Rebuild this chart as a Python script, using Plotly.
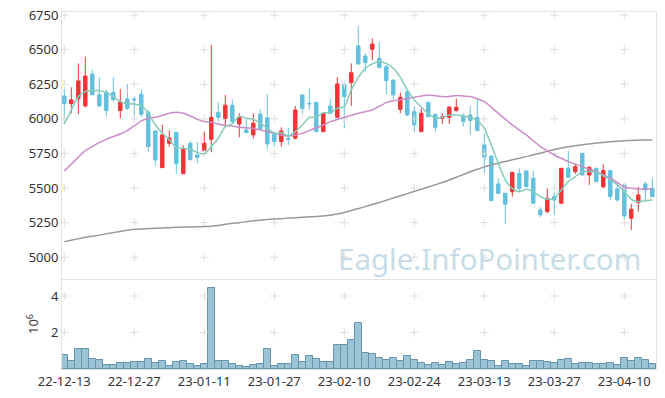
import plotly.graph_objects as go

dates = [
    "2022-12-13", "2022-12-14", "2022-12-15", "2022-12-16", "2022-12-19", "2022-12-20", "2022-12-21",
    "2022-12-22", "2022-12-23", "2022-12-26", "2022-12-27", "2022-12-28", "2022-12-29",
    "2023-01-02", "2023-01-03", "2023-01-04", "2023-01-05", "2023-01-06", "2023-01-09", "2023-01-10",
    "2023-01-11", "2023-01-12", "2023-01-13", "2023-01-16", "2023-01-17", "2023-01-18", "2023-01-19",
    "2023-01-20", "2023-01-25", "2023-01-26", "2023-01-27", "2023-01-30", "2023-01-31",
    "2023-02-01", "2023-02-02", "2023-02-03", "2023-02-06", "2023-02-07", "2023-02-08", "2023-02-09",
    "2023-02-10", "2023-02-13", "2023-02-14", "2023-02-15", "2023-02-16", "2023-02-17", "2023-02-20",
    "2023-02-21", "2023-02-22", "2023-02-23", "2023-02-24", "2023-02-27", "2023-02-28",
    "2023-03-02", "2023-03-03", "2023-03-06", "2023-03-07", "2023-03-08", "2023-03-09", "2023-03-10",
    "2023-03-13", "2023-03-14", "2023-03-15", "2023-03-16", "2023-03-17", "2023-03-20", "2023-03-21",
    "2023-03-22", "2023-03-23", "2023-03-24", "2023-03-27", "2023-03-28", "2023-03-29", "2023-03-30",
    "2023-03-31", "2023-04-03", "2023-04-04", "2023-04-05", "2023-04-06", "2023-04-07", "2023-04-10",
    "2023-04-11", "2023-04-12", "2023-04-13", "2023-04-14",
]

open_ = [6165, 6110, 6146, 6093, 6324, 6173, 6192, 6192, 6060, 6144, 6144, 6178, 6047, 5913, 5648,
         5823, 5903, 5604, 5823, 5739, 5771, 5852, 6047, 6004, 6098, 5963, 5920, 5884, 6035, 6009,
         5891, 5836, 5860, 5860, 6173, 6112, 6120, 5908, 6093, 6011, 6252, 6262, 6527, 6454, 6503,
         6438, 6377, 6281, 6069, 6197, 6052, 5908, 6120, 6033, 6004, 6011, 6060, 6021, 6028, 6011,
         5811, 5732, 5530, 5462, 5474, 5607, 5624, 5571, 5342, 5330, 5438, 5390, 5643, 5619, 5751,
         5595, 5643, 5510, 5626, 5494, 5523, 5282, 5395, 5530, 5498]
high = [6214, 6228, 6401, 6450, 6353, 6300, 6209, 6300, 6214, 6250, 6161, 6214, 6064, 5913, 5956,
        5915, 5903, 5807, 5840, 5831, 5908, 6534, 6120, 6173, 6141, 6040, 5997, 6040, 6069, 6178,
        5908, 5939, 5937, 6093, 6173, 6221, 6120, 6040, 6144, 6300, 6252, 6401, 6671, 6474, 6582,
        6558, 6390, 6281, 6190, 6200, 6093, 6076, 6120, 6033, 6040, 6093, 6146, 6040, 6093, 6146,
        5896, 5732, 5571, 5462, 5619, 5643, 5624, 5626, 5361, 5498, 5467, 5643, 5771, 5674, 5751,
        5655, 5643, 5672, 5631, 5539, 5535, 5385, 5510, 5547, 5571]
low = [5968, 6040, 6033, 6084, 6168, 6088, 6016, 6124, 6004, 6064, 5992, 6016, 5761, 5660, 5643,
       5800, 5602, 5602, 5698, 5679, 5766, 5759, 5980, 5939, 5963, 5867, 5901, 5860, 5920, 5780,
       5800, 5800, 5812, 5852, 6035, 6064, 5901, 5901, 6035, 6004, 5932, 6093, 6390, 6341, 6425,
       6365, 6180, 6141, 6040, 6020, 5901, 5901, 6011, 5908, 5963, 5963, 6052, 5944, 5884, 5915,
       5607, 5409, 5458, 5241, 5438, 5474, 5505, 5385, 5289, 5318, 5306, 5385, 5575, 5602, 5590,
       5523, 5540, 5498, 5414, 5402, 5275, 5197, 5330, 5414, 5433]
close = [6110, 6137, 6274, 6310, 6175, 6093, 6060, 6141, 6122, 6076, 6137, 6033, 5800, 5703, 5884,
         5862, 5677, 5783, 5706, 5720, 5823, 6011, 6011, 6098, 5980, 6011, 5901, 5968, 5927, 5819,
         5836, 5913, 5852, 6064, 6076, 6108, 5908, 6040, 6040, 6252, 6161, 6334, 6397, 6406, 6541,
         6370, 6276, 6173, 6156, 6028, 5956, 6040, 6016, 5939, 6016, 6084, 6084, 5980, 5987, 5915,
         5722, 5409, 5462, 5383, 5612, 5498, 5510, 5390, 5306, 5426, 5414, 5643, 5578, 5655, 5595,
         5650, 5547, 5626, 5438, 5414, 5299, 5347, 5450, 5486, 5438]

ma_short = [5963, 6064, 6161, 6197, 6204, 6204, 6190, 6161, 6124, 6108, 6108, 6093, 6040, 5956, 5896,
            5848, 5792, 5787, 5780, 5756, 5746, 5800, 5860, 5944, 5963, 6021, 6004, 5997, 5968, 5932,
            5896, 5901, 5877, 5908, 5956, 6011, 6011, 6045, 6045, 6076, 6088, 6209, 6300, 6365, 6397,
            6413, 6401, 6365, 6300, 6209, 6137, 6084, 6040, 6004, 6011, 6028, 6028, 6021, 6011, 5987,
            5932, 5811, 5679, 5559, 5498, 5474, 5491, 5474, 5438, 5419, 5426, 5486, 5547, 5583, 5619,
            5619, 5612, 5588, 5559, 5523, 5474, 5419, 5402, 5409, 5414]
ma_mid = [5624, 5672, 5722, 5771, 5800, 5828, 5852, 5872, 5891, 5915, 5949, 5985, 6004, 6011, 6026,
          6040, 6047, 6040, 6021, 5997, 5980, 5975, 5963, 5951, 5948, 5939, 5935, 5932, 5920, 5908,
          5895, 5884, 5877, 5884, 5895, 5915, 5935, 5956, 5980, 5995, 6011, 6025, 6040, 6052, 6064,
          6090, 6117, 6130, 6137, 6147, 6156, 6165, 6173, 6167, 6161, 6161, 6168, 6166, 6161, 6145,
          6124, 6085, 6040, 5998, 5956, 5920, 5884, 5842, 5800, 5770, 5739, 5715, 5691, 5673, 5655,
          5637, 5619, 5595, 5571, 5540, 5506, 5500, 5494, 5494, 5494]
ma_long = [5113, 5123, 5133, 5144, 5152, 5160, 5169, 5178, 5187, 5195, 5202, 5205, 5207, 5209, 5211,
           5214, 5217, 5218, 5219, 5220, 5222, 5225, 5230, 5238, 5245, 5250, 5257, 5263, 5268, 5272,
           5276, 5279, 5283, 5286, 5289, 5292, 5295, 5299, 5304, 5312, 5324, 5338, 5352, 5366, 5381,
           5396, 5412, 5428, 5444, 5460, 5476, 5492, 5508, 5524, 5540, 5558, 5578, 5598, 5618, 5636,
           5653, 5667, 5680, 5692, 5704, 5716, 5727, 5740, 5752, 5765, 5778, 5789, 5798, 5806, 5813,
           5819, 5825, 5830, 5835, 5839, 5842, 5844, 5846, 5847, 5848]

volume_m = [0.75, 0.44, 1.08, 1.08, 0.53, 0.47, 0.20, 0.20, 0.31, 0.31, 0.37, 0.37, 0.53, 0.31, 0.42,
            0.15, 0.37, 0.42, 0.26, 0.15, 0.26, 4.42, 0.42, 0.42, 0.26, 0.15, 0.09, 0.20, 0.26, 1.08,
            0.15, 0.26, 0.26, 0.75, 0.37, 0.69, 0.53, 0.37, 0.37, 1.30, 1.30, 1.59, 2.50, 0.86, 0.80,
            0.58, 0.49, 0.58, 0.42, 0.69, 0.49, 0.31, 0.20, 0.31, 0.20, 0.37, 0.26, 0.31, 0.47, 0.97,
            0.49, 0.42, 0.15, 0.42, 0.26, 0.26, 0.15, 0.42, 0.42, 0.37, 0.31, 0.47, 0.53, 0.26, 0.31,
            0.31, 0.26, 0.26, 0.31, 0.20, 0.58, 0.42, 0.58, 0.47, 0.26]

tick_dates = ["2022-12-13", "2022-12-27", "2023-01-11", "2023-01-27", "2023-02-10",
              "2023-02-24", "2023-03-13", "2023-03-27", "2023-04-10"]
tick_labels = ["22-12-13", "22-12-27", "23-01-11", "23-01-27", "23-02-10",
               "23-02-24", "23-03-13", "23-03-27", "23-04-10"]
price_ticks = [5000, 5250, 5500, 5750, 6000, 6250, 6500, 6750]
volume_ticks = [2, 4]

FONT = "Noto Sans"
GRID = "#dddddd"
FRAME = "#e2e2e2"

W, H = 665, 398
ML, MR, MT, MB = 62, 9, 12, 29
PW, PH = W - ML - MR, H - MT - MB

fig = go.Figure()

fig.add_trace(go.Candlestick(
    x=dates, open=open_, high=high, low=low, close=close, xaxis="x", yaxis="y",
    increasing=dict(line=dict(color="#ee3537", width=1), fillcolor="#ee3537"),
    decreasing=dict(line=dict(color="#64c0dc", width=1), fillcolor="#64c0dc"),
    whiskerwidth=0, showlegend=False))

fig.add_trace(go.Bar(x=dates, y=volume_m, xaxis="x2", yaxis="y2",
                     marker=dict(color="#9cc3d4", line=dict(color="#6596ae", width=1)),
                     showlegend=False))

# grid crosses
gx, gy = [], []
for d in tick_dates:
    for p in price_ticks:
        gx.append(d)
        gy.append(p)
fig.add_trace(go.Scatter(x=gx, y=gy, mode="markers", xaxis="x", yaxis="y",
                         marker=dict(symbol="cross-thin", size=6, line=dict(color=GRID, width=1)),
                         hoverinfo="skip", showlegend=False))
vx, vy = [], []
for d in tick_dates:
    for v in volume_ticks:
        vx.append(d)
        vy.append(v)
fig.add_trace(go.Scatter(x=vx, y=vy, mode="markers", xaxis="x2", yaxis="y2",
                         marker=dict(symbol="cross-thin", size=6, line=dict(color=GRID, width=1)),
                         hoverinfo="skip", showlegend=False))

fig.add_trace(go.Scatter(x=dates, y=ma_long, mode="lines", xaxis="x", yaxis="y",
                         line=dict(color="#999999", width=1.5, shape="spline", smoothing=0.8),
                         showlegend=False))
fig.add_trace(go.Scatter(x=dates, y=ma_mid, mode="lines", xaxis="x", yaxis="y",
                         line=dict(color="#cc8cc6", width=1.5, shape="spline", smoothing=0.6),
                         showlegend=False))
fig.add_trace(go.Scatter(x=dates, y=ma_short, mode="lines", xaxis="x", yaxis="y",
                         line=dict(color="#86cbb9", width=1.5, shape="spline", smoothing=0.6),
                         showlegend=False))

xr = [-0.33, 84.53]
common_x = dict(type="category", categoryorder="array", categoryarray=dates,
                range=xr, showgrid=False, zeroline=False, automargin=False,
                showline=True, linecolor=FRAME, mirror=True,
                tickvals=tick_dates, ticktext=tick_labels, ticks="", tickangle=0,
                ticklabeloverflow="allow",
                rangeslider=dict(visible=False))
common_y = dict(showgrid=False, zeroline=False, showline=True, linecolor=FRAME, mirror=True,
                automargin=False, ticks="", ticklabeloverflow="allow",
                tickfont=dict(family=FONT, size=13, color="#333333"))

# pane edges in page pixels: main 12..279, volume 280..369
main_dom = [(369 - 279) / PH, 1.0]
vol_dom = [0.0, (369 - 280) / PH]

fig.update_layout(
    width=W, height=H,
    autosize=False,
    margin=dict(l=ML, r=MR, t=MT, b=MB, autoexpand=False),
    paper_bgcolor="white", plot_bgcolor="white",
    font=dict(family=FONT, size=13, color="#333333"),
    bargap=0,
    hovermode=False,
    xaxis=dict(**common_x, anchor="y", showticklabels=False, matches="x2"),
    xaxis2=dict(**common_x, anchor="y2", showticklabels=True,
                tickfont=dict(family=FONT, size=13, color="#333333")),
    yaxis=dict(**common_y, domain=main_dom, range=[4843, 6772], tickvals=price_ticks),
    yaxis2=dict(**common_y, domain=vol_dom, range=[0, 4.877], tickvals=volume_ticks),
    annotations=[
        dict(text="Eagle.InfoPointer.com", xref="paper", yref="paper",
             x=(643 - 62) / PW, y=(369 - 258) / PH, xanchor="right", yanchor="middle",
             showarrow=False, font=dict(family=FONT, size=29.5, color="#c8dce7")),
        dict(text="10<sup>6</sup>", xref="paper", yref="paper",
             x=(32 - 62) / PW, y=(369 - 324) / PH, xanchor="center", yanchor="middle",
             textangle=-90, showarrow=False, font=dict(family=FONT, size=13, color="#333333")),
    ],
)

fig.write_html("out.html", config={"displayModeBar": False},
               post_script="document.body.style.margin='0';")
